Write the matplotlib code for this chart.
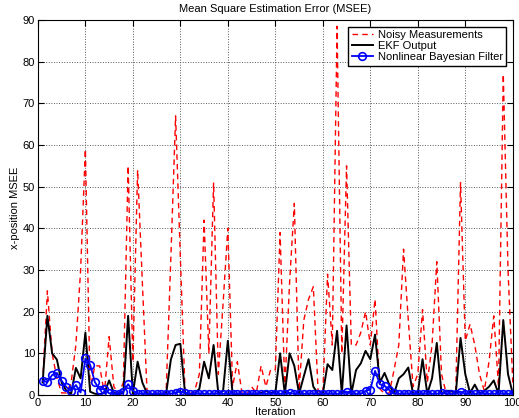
import numpy as np
import matplotlib.pyplot as plt

plt.rcParams['font.family'] = ['Liberation Sans', 'DejaVu Sans']

# iterations 1..100
iteration = np.arange(1, 101)

noisy = [3, 25, 10, 4, 0.5, 0.5, 3, 12, 30, 59,
         1.5, 7, 7, 0.3, 14, 2, 0.3, 3, 55, 8,
         54, 27, 0.5, 0.3, 0.5, 0.2, 0.5, 33, 67, 33,
         0.5, 0.3, 1, 5, 42, 10, 51, 5, 22, 40,
         2, 8, 0.3, 0.2, 2, 0.5, 7, 2, 6, 6,
         39, 1.5, 27, 46, 1, 18, 23, 26, 1, 0.3,
         29, 12, 88.5, 10, 55, 12, 12, 15, 20, 12,
         23, 1.5, 0.3, 0.5, 6, 12, 35, 18, 2, 5,
         20.5, 3, 12, 32, 5, 0.3, 0.5, 1, 51, 13,
         17, 12, 5, 1, 8, 19, 2, 77, 30, 3]

ekf = [3, 19, 10, 8.5, 3, 1, 0.3, 6.5, 4, 15,
       0.8, 0.3, 0.2, 0.5, 3.5, 0.5, 0.2, 0.5, 19, 0.3,
       8, 3, 0.3, 0.2, 0.2, 0.3, 0.3, 8.5, 12, 12.3,
       0.3, 0.2, 0.3, 1.5, 8, 4, 12, 0.3, 1, 13,
       0.3, 0.2, 0.2, 0.2, 0.3, 0.3, 0.5, 1, 0.5, 0.5,
       10, 0.3, 10, 7, 0.3, 4.5, 8.6, 2, 0.3, 0.3,
       7.4, 6, 15.4, 0.3, 16.7, 0.3, 6, 7.6, 10.6, 8.6,
       14.5, 3, 5.3, 2.5, 0.3, 4, 5, 6.6, 0.3, 0.5,
       8.6, 0.3, 4, 12.5, 0.3, 1, 1, 0.3, 13.7, 5,
       0.5, 2.5, 0.3, 1, 2, 3.5, 0.3, 18, 5, 0.3]

nbf = [3.4, 3.1, 4.8, 5.3, 3.4, 1.9, 1.0, 2.4, 0.6, 8.8,
       7.3, 3.1, 1.3, 1.5, 0.4, 0.3, 0.3, 0.8, 2.6, 1.0,
       0.3, 0.3, 0.3, 0.3, 0.3, 0.3, 0.3, 0.3, 0.6, 0.8,
       0.6, 0.3, 0.3, 0.3, 0.3, 0.3, 0.3, 0.3, 0.3, 0.3,
       0.3, 0.3, 0.3, 0.3, 0.3, 0.3, 0.3, 0.3, 0.3, 0.3,
       0.3, 0.3, 0.5, 0.3, 0.3, 0.3, 0.3, 0.3, 0.3, 0.3,
       0.3, 0.3, 0.3, 0.3, 0.8, 0.3, 0.3, 0.3, 1.0, 1.3,
       5.8, 2.6, 2.2, 1.2, 0.4, 0.3, 0.3, 0.3, 0.3, 0.3,
       0.3, 0.3, 0.3, 0.3, 0.5, 0.3, 0.3, 0.3, 0.8, 0.3,
       0.3, 0.3, 0.3, 0.3, 0.3, 0.3, 0.3, 0.3, 0.3, 0.3]

fig = plt.figure(figsize=(5.19, 4.18), dpi=100)
ax = fig.add_axes([0.073, 0.055, 0.915, 0.897])

ax.plot(iteration, noisy, 'r--', lw=1.0, dashes=(4, 3), label='Noisy Measurements')
ax.plot(iteration, ekf, 'k-', lw=1.4, label='EKF Output')
ax.plot(iteration, nbf, 'b-', lw=1.3, marker='o', ms=5.5, mfc='none', mew=1.2,
        label='Nonlinear Bayesian Filter')

ax.set_xlim(0, 100)
ax.set_ylim(0, 90)
ax.set_xticks(np.arange(0, 101, 10))
ax.set_yticks(np.arange(0, 91, 10))
ax.tick_params(direction='in', top=True, right=True, length=4, labelsize=8, pad=2)
ax.grid(True, linestyle=':', color='0.35', linewidth=0.7)

ax.set_title('Mean Square Estimation Error (MSEE)', fontsize=8, pad=6)
ax.set_xlabel('Iteration', fontsize=8, labelpad=-0.5)
ax.set_ylabel('x-position MSEE', fontsize=8, labelpad=2)

leg = ax.legend(loc='upper right', fontsize=8, fancybox=False, framealpha=1,
                edgecolor='k', borderaxespad=0.6, handlelength=1.9,
                handletextpad=0.45, labelspacing=0.1, borderpad=0.3)
leg.get_frame().set_linewidth(1.0)

fig.savefig('out.png', dpi=100)
